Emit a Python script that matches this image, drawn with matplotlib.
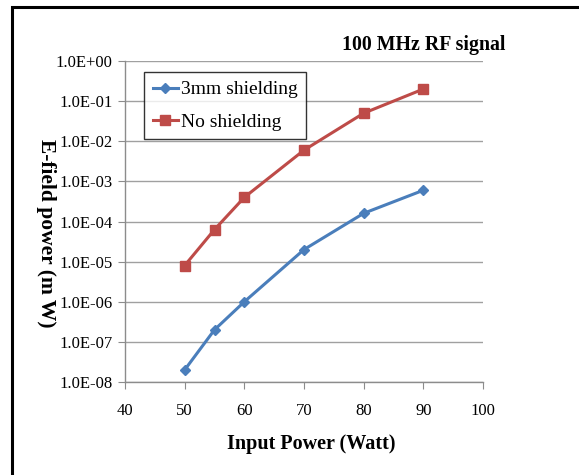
import matplotlib
matplotlib.use("Agg")
import matplotlib.pyplot as plt
from matplotlib.patches import Rectangle
from matplotlib.ticker import FixedLocator, FixedFormatter

x_vals = [50, 55, 60, 70, 80, 90]
shield_3mm = [2e-8, 2e-7, 1e-6, 2e-5, 1.6e-4, 6e-4]
no_shield = [8e-6, 6.3e-5, 4e-4, 6e-3, 5e-2, 2e-1]
y_ticks = [1e-8, 1e-7, 1e-6, 1e-5, 1e-4, 1e-3, 1e-2, 1e-1, 1e0]
y_labels = ["1.0E-08", "1.0E-07", "1.0E-06", "1.0E-05", "1.0E-04",
            "1.0E-03", "1.0E-02", "1.0E-01", "1.0E+00"]
x_ticks = [40, 50, 60, 70, 80, 90, 100]

plt.rcParams['font.family'] = ['Liberation Serif', 'DejaVu Serif']

fig = plt.figure(figsize=(5.79, 4.75), dpi=100)
fig.patches.append(Rectangle((12/579, -0.1), 1.2, 1 - 7/475 + 0.1, transform=fig.transFigure,
                             fill=False, edgecolor='black', linewidth=2.2))
ax = fig.add_axes([125/579, 1 - 382/475, (483-125)/579, (382-61)/475])

ax.plot(x_vals, shield_3mm, color='#4A7EBB', marker='D', markersize=5.5, linewidth=2.2,
        label='3mm shielding')
ax.plot(x_vals, no_shield, color='#BE4B48', marker='s', markersize=7.5, linewidth=2.2,
        label='No shielding')

ax.set_yscale('log')
ax.set_ylim(1e-8, 1e0)
ax.set_xlim(40, 100)
ax.yaxis.set_major_locator(FixedLocator(y_ticks))
ax.yaxis.set_major_formatter(FixedFormatter(y_labels))
ax.yaxis.set_minor_locator(FixedLocator([]))
ax.set_xticks(x_ticks)

ax.grid(axis='y', color='#A0A0A0', linewidth=1.0)
ax.set_axisbelow(True)
for s in ['top', 'right']:
    ax.spines[s].set_visible(False)
for s in ['left', 'bottom']:
    ax.spines[s].set_color('#8C8C8C')
    ax.spines[s].set_linewidth(1.0)
ax.tick_params(axis='both', direction='out', length=5, color='#8C8C8C', labelsize=12)
ax.tick_params(axis='x', pad=10)
ax.tick_params(axis='y', pad=4)

fig.text(311/579, 1 - 444/475, 'Input Power (Watt)', fontsize=14.5, fontweight='bold',
         ha='center', va='center')
fig.text(46/579, 1 - 233/475, 'E-field power (m W)', fontsize=15.5, fontweight='bold',
         rotation=270, ha='center', va='center')

fig.text(505/579, 1 - 45/475, '100 MHz RF signal', fontsize=14.3, fontweight='bold',
         ha='right', va='center')

leg = ax.legend(loc='upper left', bbox_to_anchor=(144/579, 1 - 72/475),
                bbox_transform=fig.transFigure, fontsize=14, frameon=True, fancybox=False,
                handlelength=1.3, handletextpad=0.15, borderpad=0.45, labelspacing=0.75,
                borderaxespad=0)
leg.get_frame().set_edgecolor('black')
leg.get_frame().set_linewidth(1.0)

fig.savefig('out.png', dpi=100)
